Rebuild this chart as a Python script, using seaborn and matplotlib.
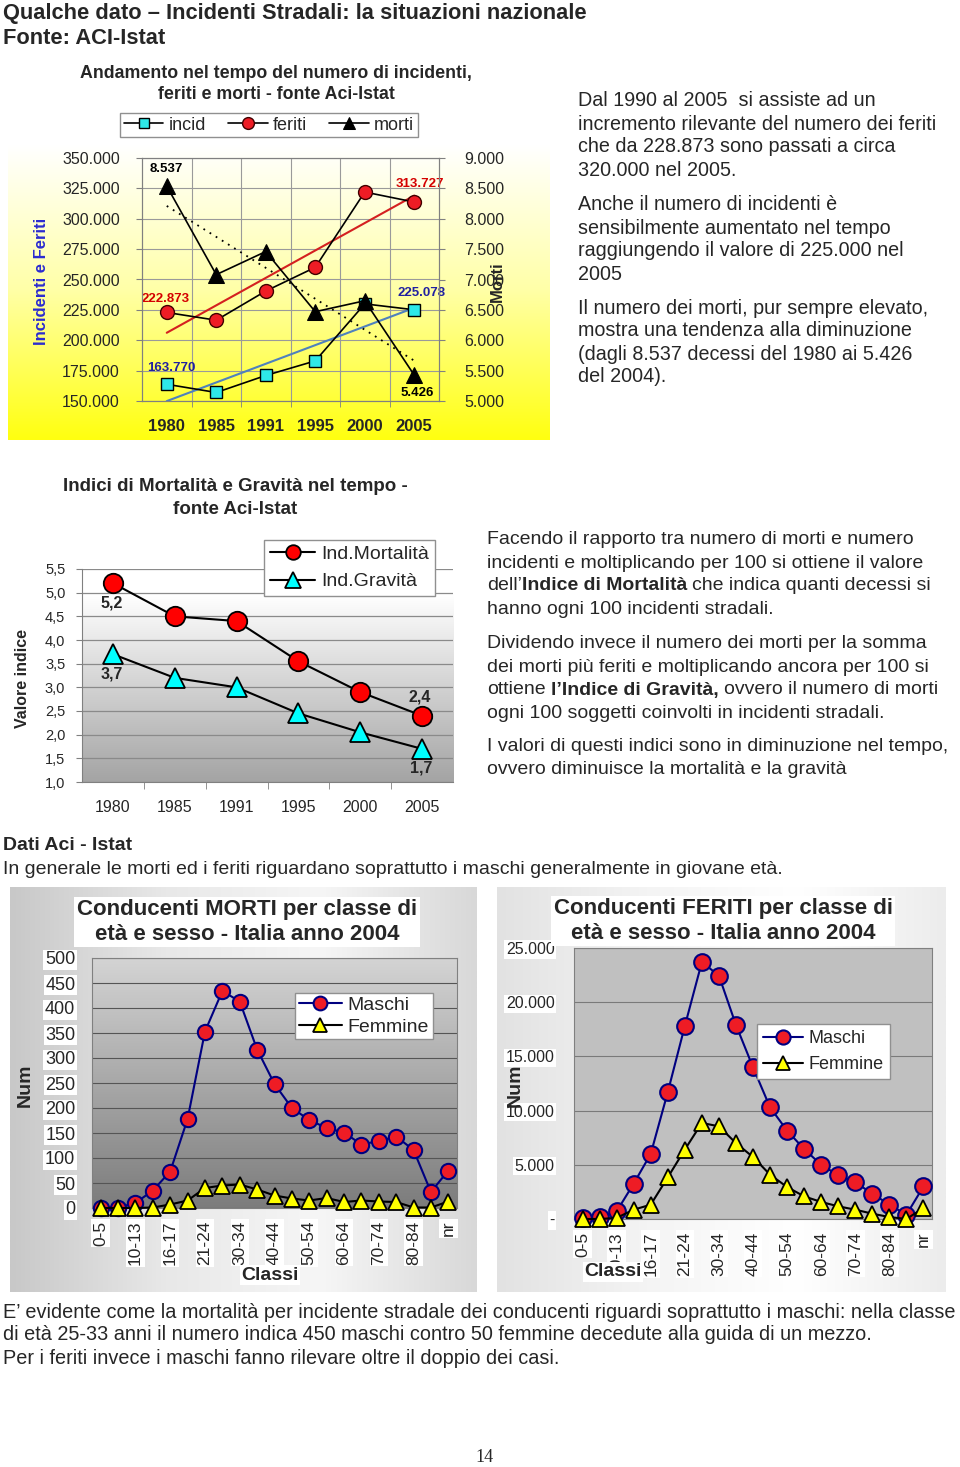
import numpy as np
import pandas as pd
import matplotlib
matplotlib.use("Agg")
import matplotlib.pyplot as plt
import seaborn as sns
from matplotlib.colors import LinearSegmentedColormap
from matplotlib import font_manager

# --- grafico 1: incidenti, feriti, morti ---
anni = ["1980", "1985", "1991", "1995", "2000", "2005"]
incid = [163770, 157000, 171000, 183000, 229950, 225078]
feriti = [222873, 216500, 240500, 260000, 322000, 313727]
morti = [8537, 7080, 7460, 6470, 6650, 5426]

# --- grafico 2: indici ---
ind_mortalita = [5.2, 4.5, 4.4, 3.55, 2.9, 2.4]
ind_gravita = [3.7, 3.2, 3.0, 2.45, 2.05, 1.7]

# --- grafici 3 e 4: conducenti per classe di eta' (2004) ---
classi = ["0-5", "6-9", "10-13", "14-15", "16-17", "18-20", "21-24", "25-29", "30-34", "35-39",
          "40-44", "45-49", "50-54", "55-59", "60-64", "65-69", "70-74", "75-79", "80-84", "85+", "nr"]
morti_maschi = [0, 1, 10, 35, 73, 178, 353, 434, 413, 317, 248, 200, 176, 160, 151, 127, 134, 143, 116, 32, 75]
morti_femmine = [0, 0, 0, 1, 7, 15, 40, 45, 47, 37, 25, 19, 15, 20, 12, 15, 13, 12, 1, 1, 13]
feriti_maschi = [100, 200, 700, 3260, 6000, 11700, 17800, 23700, 22450, 17900, 14000, 10300, 8150,
                 6450, 5000, 4030, 3380, 2340, 1320, 400, 3000]
feriti_femmine = [0, 0, 100, 860, 1320, 3840, 6400, 8860, 8550, 7000, 5720, 4090, 2950, 2090,
                  1570, 1170, 860, 490, 180, 0, 1020]

sns.set_style("white")
plt.rcParams['font.family'] = ['Liberation Sans', 'DejaVu Sans']

W, H = 960, 1467
fig = plt.figure(figsize=(W / 100, H / 100), dpi=100)


def box(x0, y0, x1, y1):
    return [x0 / W, 1 - y1 / H, (x1 - x0) / W, (y1 - y0) / H]


def fx(x):
    return x / W


def fy(y):
    return 1 - y / H


def sfondo(rect, colori, zorder=0, orizz=False):
    bg = fig.add_axes(box(*rect), zorder=zorder)
    bg.axis('off')
    cmap = LinearSegmentedColormap.from_list('g', colori)
    g = np.linspace(0, 1, 256)
    g = g.reshape(1, -1) if orizz else g.reshape(-1, 1)
    bg.imshow(g, cmap=cmap, aspect='auto', extent=[0, 1, 0, 1])
    return bg


def punti(v):
    return '-' if v == 0 else f'{v:,.0f}'.replace(',', '.')


def adatta(s, larghezza, size, **kw):
    r = fig.canvas.get_renderer()
    t = fig.text(0, 0, s, fontsize=size, **kw)
    w = t.get_window_extent(r).width
    t.remove()
    return size * larghezza / w


def riga(x, y, parti, size):
    r = fig.canvas.get_renderer()
    for s, peso in parti:
        if s.startswith(' '):
            a = fig.text(0, 0, 'x x', fontsize=size, weight=peso)
            b = fig.text(0, 0, 'xx', fontsize=size, weight=peso)
            x += a.get_window_extent(r).width - b.get_window_extent(r).width
            a.remove()
            b.remove()
            s = s.lstrip()
        t = fig.text(fx(x), fy(y), s, fontsize=size, weight=peso, va='center')
        x += t.get_window_extent(r).width


def paragrafo(x, y0, righe, size, passo=23):
    for i, r in enumerate(righe):
        if isinstance(r, str):
            fig.text(fx(x), fy(y0 + i * passo), r, fontsize=size, va='center')
        else:
            riga(x, y0 + i * passo, r, size)


# ---------------- titolo pagina ----------------
ts = adatta("Qualche dato – Incidenti Stradali: la situazioni nazionale", 585, 15, weight='bold')
fig.text(fx(3), fy(13), "Qualche dato – Incidenti Stradali: la situazioni nazionale",
         fontsize=ts, weight='bold', va='center')
fig.text(fx(3), fy(38), "Fonte: ACI-Istat", fontsize=ts, weight='bold', va='center')

# ---------------- grafico 1 ----------------
sfondo((8, 62, 550, 440), [(0, '#ffffff'), (0.22, '#ffffff'), (0.6, '#ffffa8'), (1, '#ffff10')])

ax1 = fig.add_axes(box(142, 158, 439, 401), zorder=2)
ax1.set_facecolor('none')
pos = np.arange(len(anni))
top = pd.DataFrame({'pos': pos, 'incid': incid, 'feriti': feriti, 'morti': morti})

sns.lineplot(data=top, x='pos', y='incid', ax=ax1, sort=False, errorbar=None, color='black', lw=1.2,
             marker='s', markersize=9, markerfacecolor='#2ee8e8', markeredgecolor='black',
             markeredgewidth=1, label='incid', zorder=5)
sns.lineplot(data=top, x='pos', y='feriti', ax=ax1, sort=False, errorbar=None, color='black', lw=1.2,
             marker='o', markersize=10, markerfacecolor='#ee1c25', markeredgecolor='#400000',
             markeredgewidth=1, label='feriti', zorder=5)
k, q = np.polyfit(pos, incid, 1)
sns.lineplot(x=pos, y=k * pos + q, ax=ax1, color='#4f81bd', lw=1.5, legend=False, zorder=3)
k, q = np.polyfit(pos, feriti, 1)
sns.lineplot(x=pos, y=k * pos + q, ax=ax1, color='#d42020', lw=1.5, legend=False, zorder=3)

ax1b = ax1.twinx()
sns.lineplot(data=top, x='pos', y='morti', ax=ax1b, sort=False, errorbar=None, color='black', lw=1.2,
             marker='^', markersize=11, markerfacecolor='black', markeredgecolor='black',
             label='morti', zorder=5)
k, q = np.polyfit(pos, morti, 1)
sns.lineplot(x=pos, y=k * pos + q, ax=ax1b, color='black', lw=1.3, ls=(0, (1, 3)), legend=False, zorder=3)

ax1.set_xlim(-0.5, 5.5)
ax1.set_ylim(150000, 350000)
ax1b.set_ylim(5000, 9000)
ax1.set_xticks(pos)
ax1.set_xticklabels(anni, fontsize=12, weight='bold')
ax1.set_xticks(pos[:-1] + 0.5, minor=True)
ax1.tick_params(axis='x', which='major', length=0, pad=13)
ax1.tick_params(axis='x', which='minor', bottom=True, length=4, color='#808080')
yt = list(range(150000, 350001, 25000))
ax1.set_yticks(yt)
ax1.set_yticklabels([punti(v) for v in yt], fontsize=11.5)
ax1.tick_params(axis='y', left=True, length=4, pad=12, color='#808080')
yt2 = list(range(5000, 9001, 500))
ax1b.set_yticks(yt2)
ax1b.set_yticklabels([punti(v) for v in yt2], fontsize=11.5)
ax1b.tick_params(axis='y', right=True, length=4, pad=14, color='#808080')
ax1.grid(True, which='major', axis='y', color='#9a9a9a', lw=0.8)
ax1.grid(True, which='minor', axis='x', color='#9a9a9a', lw=0.8)
for a in (ax1, ax1b):
    a.set(xlabel='', ylabel='')
    for sp in a.spines.values():
        sp.set_color('#808080')

lab = dict(textcoords='offset points', ha='center', va='center', fontsize=9.5, weight='bold')
ax1b.annotate('8.537', (0, morti[0]), xytext=(0, 12), color='black', **lab)
ax1b.annotate('5.426', (5, morti[5]), xytext=(2, -13), color='black', **lab)
ax1.annotate('313.727', (5, feriti[5]), xytext=(4, 13), color='#d40000', **lab)
ax1.annotate('222.873', (0, feriti[0]), xytext=(-1, 10), color='#d40000', **lab)
ax1.annotate('225.078', (5, incid[5]), xytext=(5, 12), color='#2020a0', **lab)
ax1.annotate('163.770', (0, incid[0]), xytext=(3, 11.5), color='#2020a0', **lab)

h1, l1 = ax1.get_legend_handles_labels()
h2, l2 = ax1b.get_legend_handles_labels()
if ax1b.get_legend():
    ax1b.get_legend().remove()
ax1.legend(h1 + h2, l1 + l2, ncol=3, loc='center', bbox_to_anchor=(fx(269), fy(125)),
           bbox_transform=fig.transFigure, fontsize=13, frameon=True, fancybox=False,
           edgecolor='#909090', framealpha=1, borderpad=0.2, handlelength=2.2,
           columnspacing=1.2, handletextpad=0.3, markerscale=0.85)

fig.text(fx(276), fy(84), "Andamento nel tempo del numero di incidenti,\nferiti e morti - fonte Aci-Istat",
         ha='center', va='center', fontsize=12.8, weight='bold', linespacing=1.35)
fig.text(fx(42), fy(281), "Incidenti e Feriti", rotation=90, ha='center', va='center',
         color='#2b2bd0', fontsize=12, weight='bold')
fig.text(fx(497), fy(282), "Morti", rotation=90, ha='center', va='center', fontsize=12, weight='bold')

# testo a destra
paragrafo(578, 101, ["Dal 1990 al 2005  si assiste ad un",
                     "incremento rilevante del numero dei feriti",
                     "che da 228.873 sono passati a circa",
                     "320.000 nel 2005."], 14.2)
paragrafo(578, 205, ["Anche il numero di incidenti è",
                     "sensibilmente aumentato nel tempo",
                     "raggiungendo il valore di 225.000 nel",
                     "2005"], 14.2)
paragrafo(578, 308, ["Il numero dei morti, pur sempre elevato,",
                     "mostra una tendenza alla diminuzione",
                     "(dagli 8.537 decessi del 1980 ai 5.426",
                     "del 2004)."], 14.2)

# ---------------- grafico 2 ----------------
sfondo((82, 569, 453, 782), [(0, '#ffffff'), (0.12, '#ffffff'), (1, '#a4a4a4')], zorder=1)
ax2 = fig.add_axes(box(82, 569, 453, 782), zorder=2)
ax2.set_facecolor('none')
idx = pd.DataFrame({'pos': pos, 'mort': ind_mortalita, 'grav': ind_gravita})
sns.lineplot(data=idx, x='pos', y='mort', ax=ax2, sort=False, errorbar=None, color='black', lw=1.5,
             marker='o', markersize=14, markerfacecolor='#ff0000', markeredgecolor='black',
             markeredgewidth=1.3, label='Ind.Mortalità', zorder=5, clip_on=False)
sns.lineplot(data=idx, x='pos', y='grav', ax=ax2, sort=False, errorbar=None, color='black', lw=1.5,
             marker='^', markersize=15, markerfacecolor='#00ffff', markeredgecolor='black',
             markeredgewidth=1.3, label='Ind.Gravità', zorder=5, clip_on=False)
ax2.set_xlim(-0.5, 5.5)
ax2.set_ylim(1.0, 5.5)
yt3 = np.arange(1.0, 5.51, 0.5)
ax2.set_yticks(yt3)
ax2.set_yticklabels([f'{v:.1f}'.replace('.', ',') for v in yt3], fontsize=10.5)
ax2.set_xticks(pos)
ax2.set_xticklabels(anni, fontsize=11.5)
ax2.set_xticks(pos[:-1] + 0.5, minor=True)
ax2.tick_params(axis='x', which='major', length=0, pad=13)
ax2.tick_params(axis='x', which='minor', bottom=True, length=5, color='#808080')
ax2.tick_params(axis='y', left=True, length=4, pad=8, color='#808080')
ax2.grid(True, axis='y', color='#8a8a8a', lw=0.9)
ax2.set(xlabel='', ylabel='')
for s in ('top', 'right'):
    ax2.spines[s].set_visible(False)
for s in ('left', 'bottom'):
    ax2.spines[s].set_color('#808080')
lab2 = dict(textcoords='offset points', ha='center', va='center', fontsize=11.5, weight='bold')
ax2.annotate('5,2', (0, ind_mortalita[0]), xytext=(-0.7, -14.5), **lab2)
ax2.annotate('3,7', (0, ind_gravita[0]), xytext=(-0.7, -14), **lab2)
ax2.annotate('2,4', (5, ind_mortalita[5]), xytext=(-2, 13.5), **lab2)
ax2.annotate('1,7', (5, ind_gravita[5]), xytext=(-1, -14), **lab2)
ax2.legend(loc='center', bbox_to_anchor=(fx(349.5), fy(568)), bbox_transform=fig.transFigure,
           fontsize=14, frameon=True, fancybox=False, edgecolor='#909090', framealpha=1,
           borderpad=0.3, handlelength=2.3, handletextpad=0.3, labelspacing=0.5, markerscale=0.75)
fig.text(fx(235), fy(498), "Indici di Mortalità e Gravità nel tempo -\nfonte Aci-Istat", ha='center',
         va='center', fontsize=13.5, weight='bold', linespacing=1.45)
fig.text(fx(23), fy(678), "Valore indice", rotation=90, ha='center', va='center', fontsize=11.5,
         weight='bold')

paragrafo(487, 540, ["Facendo il rapporto tra numero di morti e numero",
                     "incidenti e moltiplicando per 100 si ottiene il valore",
                     [("dell’", 'normal'), ("Indice di Mortalità", 'bold'),
                      (" che indica quanti decessi si", 'normal')],
                     "hanno ogni 100 incidenti stradali."], 14)
paragrafo(487, 644, ["Dividendo invece il numero dei morti per la somma",
                     "dei morti più feriti e moltiplicando ancora per 100 si",
                     [("ottiene", 'normal'), (" l’Indice di Gravità,", 'bold'),
                      (" ovvero il numero di morti", 'normal')],
                     "ogni 100 soggetti coinvolti in incidenti stradali."], 14)
paragrafo(487, 747, ["I valori di questi indici sono in diminuzione nel tempo,",
                     "ovvero diminuisce la mortalità e la gravità"], 14)

fig.text(fx(3), fy(846), "Dati Aci - Istat", fontsize=14, weight='bold', va='center')
fig.text(fx(3), fy(869), "In generale le morti ed i feriti riguardano soprattutto i maschi generalmente in giovane età.",
         fontsize=14, va='center')

# ---------------- grafici 3 e 4 ----------------
cpos = np.arange(len(classi))
eta = pd.DataFrame({'pos': cpos, 'mm': morti_maschi, 'mf': morti_femmine,
                    'fm': feriti_maschi, 'ff': feriti_femmine})
etichette = [c if i % 2 == 0 else '' for i, c in enumerate(classi)]
bianco = dict(facecolor='white', edgecolor='none', pad=1.2)


def grafico_classi(ax, ym, yf, ms):
    sns.lineplot(data=eta, x='pos', y=ym, ax=ax, sort=False, errorbar=None, color='#000080', lw=1.5,
                 marker='o', markersize=ms, markerfacecolor='#ee1c25', markeredgecolor='#000080',
                 markeredgewidth=1.5, label='Maschi', zorder=5, clip_on=False)
    sns.lineplot(data=eta, x='pos', y=yf, ax=ax, sort=False, errorbar=None, color='black', lw=1.5,
                 marker='^', markersize=ms, markerfacecolor='#ffff00', markeredgecolor='black',
                 markeredgewidth=1.3, label='Femmine', zorder=5, clip_on=False)
    ax.set_xlim(-0.5, len(classi) - 0.5)
    ax.set_xticks(cpos)
    ax.set_xticklabels(etichette, rotation=90, fontsize=12.5)
    ax.tick_params(axis='x', length=0, pad=9)
    for t in ax.get_xticklabels():
        t.set_bbox(bianco)
    ax.set(xlabel='', ylabel='')
    for sp in ax.spines.values():
        sp.set_color('#808080')


# morti
sfondo((10, 887, 477, 1292), ['#c8c8c8', '#e8e8e8', '#f6f6f6', '#d8d8d8'], orizz=True)
sfondo((92, 958, 457, 1208), [(0, '#d4d4d4'), (1, '#7c7c7c')], zorder=1)
ax3 = fig.add_axes(box(92, 958, 457, 1208), zorder=2)
ax3.set_facecolor('none')
grafico_classi(ax3, 'mm', 'mf', 11)
ax3.set_ylim(0, 500)
yt4 = list(range(0, 501, 50))
ax3.set_yticks(yt4)
ax3.set_yticklabels([str(v) for v in yt4], fontsize=13)
ax3.tick_params(axis='y', length=0, pad=12)
for t in ax3.get_yticklabels():
    t.set_bbox(bianco)
ax3.grid(True, axis='y', color='#555555', lw=0.8)
ax3.legend(loc='center', bbox_to_anchor=(fx(364), fy(1016)), bbox_transform=fig.transFigure,
           fontsize=14, frameon=True, fancybox=False, edgecolor='#909090', framealpha=1,
           borderpad=0.2, handlelength=2.2, handletextpad=0.3, labelspacing=0.2, markerscale=0.9)
fig.text(fx(247), fy(922), "Conducenti MORTI per classe di\netà e sesso - Italia anno 2004",
         ha='center', va='center', fontsize=16, weight='bold', linespacing=1.2,
         bbox=dict(facecolor='white', edgecolor='none', pad=2))
fig.text(fx(25), fy(1085), "Num", rotation=90, ha='center', va='center', fontsize=14, weight='bold')
fig.text(fx(270), fy(1275), "Classi", ha='center', va='center', fontsize=14, weight='bold', bbox=bianco)

# feriti
sfondo((497, 887, 946, 1292), ['#e2e2e2', '#f4f4f4', '#ffffff', '#ececec'], orizz=True)
ax4 = fig.add_axes(box(574, 948, 932, 1219), zorder=2)
ax4.set_facecolor('#c0c0c0')
grafico_classi(ax4, 'fm', 'ff', 12)
ax4.set_ylim(0, 25000)
yt5 = list(range(0, 25001, 5000))
ax4.set_yticks(yt5)
ax4.set_yticklabels([punti(v) for v in yt5], fontsize=11.5)
ax4.tick_params(axis='y', length=0, pad=14)
for t in ax4.get_yticklabels():
    t.set_bbox(bianco)
ax4.grid(True, axis='y', color='#7a7a7a', lw=0.8)
ax4.legend(loc='center', bbox_to_anchor=(fx(823.5), fy(1051.5)), bbox_transform=fig.transFigure,
           fontsize=13, frameon=True, fancybox=False, edgecolor='#909090', framealpha=1,
           borderpad=0.35, handlelength=2.2, handletextpad=0.3, labelspacing=0.5, markerscale=0.85)
fig.text(fx(723), fy(921), "Conducenti FERITI per classe di\netà e sesso - Italia anno 2004",
         ha='center', va='center', fontsize=16, weight='bold', linespacing=1.2,
         bbox=dict(facecolor='white', edgecolor='none', pad=2), zorder=5)
fig.text(fx(515), fy(1085), "Num", rotation=90, ha='center', va='center', fontsize=14, weight='bold',
         zorder=5)
fig.text(fx(613), fy(1272), "Classi", ha='center', va='center', fontsize=14, weight='bold', bbox=bianco,
         zorder=5)

# ---------------- testo finale ----------------
nomi = {f.name for f in font_manager.fontManager.ttflist}
stretto = 'Liberation Sans Narrow' if 'Liberation Sans Narrow' in nomi else 'Liberation Sans'
fine = ["E’ evidente come la mortalità per incidente stradale dei conducenti riguardi soprattutto i maschi: nella classe",
        "di età 25-33 anni il numero indica 450 maschi contro 50 femmine decedute alla guida di un mezzo.",
        "Per i feriti invece i maschi fanno rilevare oltre il doppio dei casi."]
fs = adatta(fine[0], 954, 14, family=stretto)
for i, r in enumerate(fine):
    fig.text(fx(3), fy(1312 + 23 * i), r, fontsize=fs, family=stretto, va='center')

fig.text(fx(484), fy(1457), "14", ha='center', va='center', fontsize=13, family='Liberation Serif')

fig.savefig('out.png', dpi=100)
